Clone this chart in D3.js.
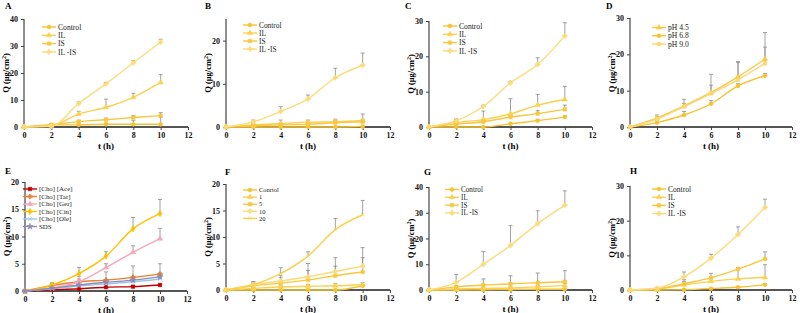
<!DOCTYPE html>
<html>
<head>
<meta charset="utf-8">
<script src="https://cdn.jsdelivr.net/npm/d3@7"></script>
<style>
  body { margin: 0; background: #fff; }
  svg { display: block; font-family: "Liberation Serif", "Times New Roman", serif; }
</style>
</head>
<body>
<script>
// time points (h)
var times = [0, 2, 4, 6, 8, 10];
var xTicks = [0, 2, 4, 6, 8, 10, 12];

var names4 = ["Control", "IL", "IS", "IL -IS"];
var namesD = ["pH 4.5", "pH 6.8", "pH 9.0"];
var namesE = ["[Cho] [Ace]", "[Cho] [Tar]", "[Cho] [Ger]", "[Cho] [Cin]", "[Cho] [Ole]", "SDS"];
var namesF = ["Conrtol", "1", "5", "10", "20"];

// panel A
var valuesA = [[0, 0.8, 0.8, 1.0, 1.0, 1.0], [0, 0.5, 4.8, 7.3, 11, 16.5], [0, 0.8, 2.0, 2.7, 3.5, 4.2], [0, 0.3, 8.7, 16, 23.8, 31.5]];
var errA    = [[0, 0.2, 0.3, 0.4, 1.5, 2.7], [0, 0.3, 1.0, 3.0, 1.5, 3.0], [0, 0.2, 0.5, 0.6, 0.8, 1.1], [0, 0.2, 0.6, 0.5, 0.8, 1.0]];
// panel B
var valuesB = [[0, 0, 0, 0, 0, 0.1], [0, 0.5, 0.8, 1.1, 1.2, 1.5], [0, 0.3, 0.5, 0.6, 1.0, 1.2], [0, 1.2, 3.6, 6.5, 11.4, 14.3]];
var errB    = [[0, 0, 0, 0, 0, 0], [0, 0.3, 0.8, 0.5, 0.6, 1.5], [0, 0.2, 0.4, 0.4, 0.5, 0.6], [0, 0.4, 1.1, 0.9, 2.2, 2.8]];
// panel C
var valuesC = [[0, 0, 0, 0.9, 1.8, 2.8], [0, 1.3, 2.1, 3.7, 6.2, 7.8], [0, 0.8, 1.5, 2.8, 3.8, 5.0], [0, 1.8, 5.8, 12.5, 17.7, 25.8]];
var errC    = [[0, 0, 0, 0.2, 0.3, 0.4], [0, 0.8, 2.4, 4.3, 3.0, 3.7], [0, 0.3, 0.5, 0.6, 0.9, 1.2], [0, 0.5, 0.4, 0.4, 1.9, 3.7]];
// panel D
var valuesD = [[0, 2.5, 5.8, 9.5, 13.8, 18.7], [0, 1.2, 3.3, 6.4, 11.3, 14.1], [0, 2.2, 5.6, 9.2, 13.0, 17.5]];
var errD    = [[0, 0.8, 1.8, 5.0, 4.2, 7.3], [0, 0.4, 1.0, 0.9, 0.6, 0.6], [0, 0.6, 0.9, 2.3, 4.8, 4.5]];
// panel E
var valuesE = [[0, 0.2, 0.4, 0.7, 0.8, 1.1], [0, 1.0, 1.7, 2.0, 2.5, 3.1], [0, 0.6, 1.7, 4.3, 7.1, 9.6], [0, 1.1, 3.2, 6.4, 11.4, 14.2], [0, 0.4, 0.9, 1.3, 1.7, 2.2], [0, 0.5, 1.1, 1.6, 2.0, 2.6]];
var errE    = [[0, 0.1, 0.1, 0.2, 0.2, 0.2], [0, 0.4, 1.0, 1.5, 2.1, 1.9], [0, 0.3, 0.5, 0.7, 1.2, 1.9], [0, 0.4, 1.1, 0.8, 2.1, 2.6], [0, 0.2, 0.3, 0.4, 0.5, 0.6], [0, 0.2, 0.4, 0.5, 0.6, 0.7]];
// panel F
var valuesF = [[0, 0, 0, 0, 0, 0.8], [0, 0.3, 0.6, 0.7, 0.8, 1.0], [0, 0.8, 1.3, 1.9, 2.7, 3.4], [0, 1.0, 1.7, 2.5, 3.5, 4.5], [0, 1.0, 3.1, 6.4, 11.4, 14.2]];
var errF    = [[0, 0, 0, 0, 0, 0.2], [0, 0.2, 0.3, 0.3, 0.4, 0.4], [0, 0.5, 1.0, 1.8, 1.8, 2.7], [0, 0.6, 1.0, 2.5, 2.6, 3.5], [0, 0.5, 1.1, 0.8, 2.1, 2.7]];
// panel G
var valuesG = [[0, 0, 0.1, 0.2, 0.3, 0.3], [0, 0.4, 0.6, 0.8, 1.2, 1.7], [0, 1.2, 1.9, 2.4, 2.8, 3.2], [0, 3.0, 10, 17.3, 25.8, 33]];
var errG    = [[0, 0, 0.1, 0.1, 0.1, 0.1], [0, 0.3, 0.4, 0.5, 0.6, 0.8], [0, 0.5, 2.4, 3.1, 3.8, 4.3], [0, 3.0, 5.0, 7.7, 5.0, 5.5]];
// panel H
var valuesH = [[0, 0, 0.1, 0.4, 0.8, 1.5], [0, 0.3, 1.5, 2.5, 3.2, 3.6], [0, 0.3, 1.8, 3.5, 6.0, 9.0], [0, 0.5, 3.8, 9.2, 16, 23.8]];
var errH    = [[0, 0, 0.1, 0.1, 0.2, 0.3], [0, 0.2, 1.0, 1.0, 2.8, 3.7], [0, 0.2, 1.2, 1.3, 0.5, 2.0], [0, 0.2, 1.4, 1.1, 2.2, 2.4]];

var yellows4 = ["#f6c232", "#fad052", "#f8c73e", "#fcdb7a"];
var colorsE = ["#c00000", "#ed7d31", "#f4a7bb", "#ffc000", "#9dc3e6", "#8c8cb4"];
var sym4 = [d3.symbolCircle, d3.symbolTriangle, d3.symbolSquare, d3.symbolCross];
var symE = [d3.symbolSquare, d3.symbolCross, d3.symbolTriangle, d3.symbolDiamond, d3.symbolTimes, d3.symbolStar];

var panels = [
  {id: "A", x0: 24, x1: 188, yT: 19, yB: 127, ymax: 40, ticks: [0, 10, 20, 30, 40], names: names4, v: valuesA, e: errA, colors: yellows4, sym: sym4, lx: 42, ly: 27, ls: 8.3, lab: [5, 9]},
  {id: "B", x0: 226, x1: 390, yT: 19, yB: 127, ymax: 25, ticks: [0, 10, 20], names: names4, v: valuesB, e: errB, colors: yellows4, sym: sym4, lx: 243, ly: 25, ls: 8, lab: [205, 9]},
  {id: "C", x0: 429, x1: 592, yT: 21, yB: 127, ymax: 30, ticks: [0, 10, 20, 30], names: names4, v: valuesC, e: errC, colors: yellows4, sym: sym4, lx: 443, ly: 26, ls: 8.3, lab: [405, 9]},
  {id: "D", x0: 630, x1: 792, yT: 18, yB: 127, ymax: 30, ticks: [0, 10, 20, 30], names: namesD, v: valuesD, e: errD, colors: ["#f8ca46", "#f6c232", "#fcd672"], sym: [d3.symbolTriangle, d3.symbolCircle, d3.symbolSquare], lx: 652, ly: 27.5, ls: 8.3, lab: [606, 9]},
  {id: "E", x0: 25, x1: 187, yT: 182, yB: 291, ymax: 20, ticks: [0, 5, 10, 15, 20], names: namesE, v: valuesE, e: errE, colors: colorsE, sym: symE, lx: 23, ly: 189, ls: 7.5, lab: [5, 174]},
  {id: "F", x0: 226, x1: 390, yT: 184, yB: 290, ymax: 20, ticks: [0, 5, 10, 15, 20], names: namesF, v: valuesF, e: errF, colors: ["#f6c232", "#fad052", "#f8c73e", "#fcdb7a", "#fad04a"], sym: [d3.symbolCircle, d3.symbolTriangle, d3.symbolSquare, d3.symbolCross, d3.symbolTimes], lx: 243, ly: 190, ls: 7.1, lab: [225, 175]},
  {id: "G", x0: 429, x1: 592, yT: 187, yB: 290, ymax: 40, ticks: [0, 10, 20, 30, 40], names: names4, v: valuesG, e: errG, colors: yellows4, sym: sym4, lx: 445, ly: 189.5, ls: 7.8, lab: [424, 175]},
  {id: "H", x0: 630, x1: 792, yT: 186, yB: 290, ymax: 30, ticks: [0, 10, 20, 30], names: names4, v: valuesH, e: errH, colors: yellows4, sym: sym4, lx: 652, ly: 189, ls: 8.2, lab: [630, 174]}
];

var svg = d3.select("body").append("svg")
    .attr("width", 800)
    .attr("height", 313);

panels.forEach(function(p) {
  var x = d3.scaleLinear().domain([0, 12]).range([p.x0, p.x1]);
  var y = d3.scaleLinear().domain([0, p.ymax]).range([p.yB, p.yT]);
  var g = svg.append("g");

  // panel letter
  g.append("text")
      .attr("x", p.lab[0]).attr("y", p.lab[1])
      .attr("font-size", 9).attr("font-weight", "bold")
      .text(p.id);

  // axes
  var yAxis = d3.axisLeft(y).tickValues(p.ticks).tickSize(3).tickPadding(3);
  var xAxis = d3.axisBottom(x).tickValues(xTicks).tickSize(3).tickPadding(2);

  var ya = g.append("g").attr("transform", "translate(" + p.x0 + ",0)").call(yAxis);
  var xa = g.append("g").attr("transform", "translate(0," + p.yB + ")").call(xAxis);
  [ya, xa].forEach(function(a) {
    a.selectAll("text").attr("font-size", 8).attr("font-weight", "bold")
      .attr("font-family", "Liberation Serif, serif").attr("fill", "#111");
    a.selectAll("line").attr("stroke", "#444").attr("stroke-width", 1);
  });
  ya.select(".domain").attr("stroke", "#444").attr("stroke-width", 1.2).attr("d", "M0," + p.yT + "V" + p.yB);
  xa.select(".domain").attr("stroke", "#555").attr("stroke-width", 2.2).attr("d", "M" + p.x0 + ",0H" + p.x1);

  // axis titles
  g.append("text")
      .attr("x", (p.x0 + p.x1) / 2).attr("y", p.yB + 21.5)
      .attr("text-anchor", "middle").attr("font-size", 9).attr("font-weight", "bold")
      .text("t (h)");
  var yt = g.append("text")
      .attr("transform", "translate(" + (p.x0 - 15) + "," + ((p.yT + p.yB) / 2) + ") rotate(-90)")
      .attr("text-anchor", "middle").attr("font-size", 8.5).attr("font-weight", "bold");
  yt.append("tspan").text("Q (μg/cm");
  yt.append("tspan").attr("font-size", 6).attr("dy", -3).text("2");
  yt.append("tspan").attr("dy", 3).text(")");

  var line = d3.line()
      .x(function(d, i) { return x(times[i]); })
      .y(function(d) { return y(d); })
      .curve(d3.curveMonotoneX);

  // error bars
  p.v.forEach(function(vals, s) {
    vals.forEach(function(v, i) {
      var er = p.e[s][i];
      if (er <= 0) return;
      var cx = x(times[i]);
      g.append("line")
          .attr("x1", cx).attr("x2", cx)
          .attr("y1", y(v)).attr("y2", y(v + er))
          .attr("stroke", "#8a8a8a").attr("stroke-width", 0.8);
      g.append("line")
          .attr("x1", cx - 2).attr("x2", cx + 2)
          .attr("y1", y(v + er)).attr("y2", y(v + er))
          .attr("stroke", "#8a8a8a").attr("stroke-width", 0.8);
    });
  });

  // lines and markers
  p.v.forEach(function(vals, s) {
    var c = p.colors[s];
    g.append("path")
        .attr("d", line(vals))
        .attr("fill", "none").attr("stroke", c).attr("stroke-width", 1.4);
    g.selectAll(null).data(vals).enter().append("path")
        .attr("transform", function(d, i) { return "translate(" + x(times[i]) + "," + y(d) + ")"; })
        .attr("d", d3.symbol().type(p.sym[s]).size(12))
        .attr("fill", c).attr("stroke", c).attr("stroke-width", 0.6);
  });

  // legend
  var fs = Math.min(8, p.ls * 0.92);
  p.names.forEach(function(n, s) {
    var c = p.colors[s];
    var ly = p.ly + s * p.ls;
    g.append("line")
        .attr("x1", p.lx).attr("x2", p.lx + 14)
        .attr("y1", ly).attr("y2", ly)
        .attr("stroke", c).attr("stroke-width", 1.4);
    g.append("path")
        .attr("transform", "translate(" + (p.lx + 7) + "," + ly + ")")
        .attr("d", d3.symbol().type(p.sym[s]).size(12))
        .attr("fill", c).attr("stroke", c).attr("stroke-width", 0.6);
    g.append("text")
        .attr("x", p.lx + 16).attr("y", ly + fs * 0.35)
        .attr("font-size", fs).attr("fill", "#222")
        .text(n);
  });
});
</script>
</body>
</html>
